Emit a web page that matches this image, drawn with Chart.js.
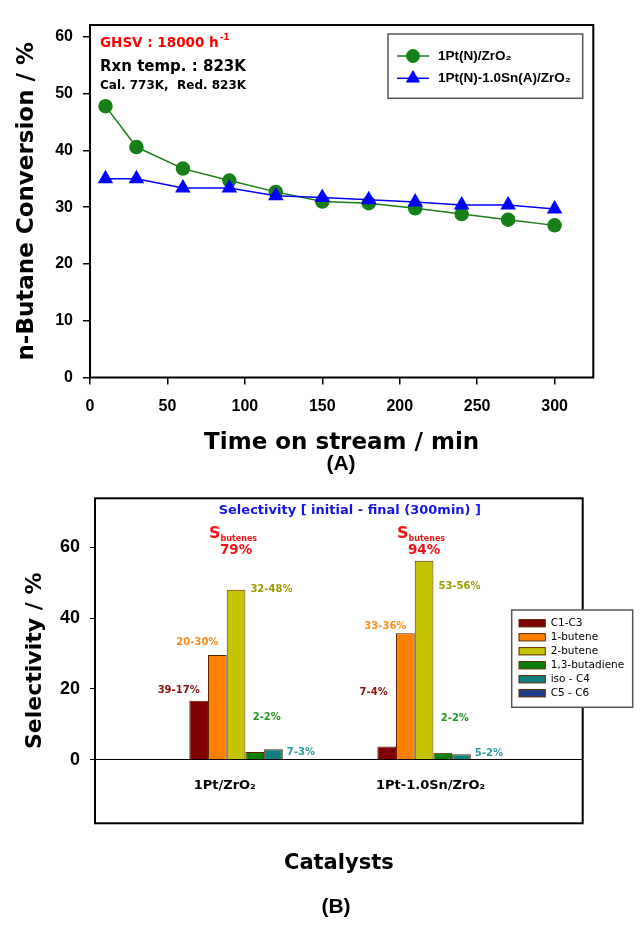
<!DOCTYPE html>
<html>
<head>
<meta charset="utf-8">
<script src="https://cdn.jsdelivr.net/npm/chart.js@4.4.1/dist/chart.umd.min.js"></script>
<style>
	html, body { margin: 0; padding: 0; background: #fff; }
	#wrap { position: relative; width: 643px; height: 925px; overflow: hidden; }
	canvas { position: absolute; left: 0; }
	#convChart { top: 0; }
	#selChart { top: 470px; }
	.panel { position: absolute; transform: translate(-50%, -50%); font: bold 21px 'Liberation Sans', Arial, sans-serif; color: #000; }
</style>
</head>
<body>
<div id="wrap">
	<canvas id="convChart" width="643" height="470" style="width:643px;height:470px"></canvas>
	<canvas id="selChart" width="643" height="455" style="width:643px;height:455px"></canvas>
	<div class="panel" style="left:341px;top:463px">(A)</div>
	<div class="panel" style="left:336px;top:906px">(B)</div>
</div>
<script>
// (A) n-butane conversion vs time on stream
const timeMin = [10, 30, 60, 90, 120, 150, 180, 210, 240, 270, 300];
const convPt = [47.8, 40.6, 36.8, 34.7, 32.7, 31.0, 30.7, 29.8, 28.8, 27.8, 26.8];
const convPtSn = [35.0, 35.0, 33.4, 33.4, 32.0, 31.7, 31.3, 30.9, 30.4, 30.4, 29.7];
const timeTicks = [0, 50, 100, 150, 200, 250, 300];
const convTicks = [0, 10, 20, 30, 40, 50, 60];
const seriesNames = ['1Pt(N)/ZrO₂', '1Pt(N)-1.0Sn(A)/ZrO₂'];
const conditionText = ['GHSV : 18000 h', 'Rxn temp. : 823K', 'Cal. 773K,  Red. 823K'];

// (B) selectivity, initial - final (300 min)
const catalysts = ['1Pt/ZrO₂', '1Pt-1.0Sn/ZrO₂'];
const products = ['C1-C3', '1-butene', '2-butene', '1,3-butadiene', 'iso - C4', 'C5 - C6'];
const selC1C3 = [16.7, 3.8];
const sel1Butene = [29.6, 35.7];
const sel2Butene = [48.0, 56.2];
const selButadiene = [2.2, 2.0];
const selIsoC4 = [3.0, 1.6];
const selC5C6 = [0, 0];
const selTicks = [0, 20, 40, 60];
const changeNotesPt = ['39-17%', '20-30%', '32-48%', '2-2%', '7-3%'];
const changeNotesPtSn = ['7-4%', '33-36%', '53-56%', '2-2%', '5-2%'];
const butenesSel = ['79%', '94%'];

// layout of the annotations (not data)
const catX = [1, 2];
const catLabelX = [0.89, 1.985];
const noteLevels = [[19.5, 33.1, 48.2, 12.1, 2.2], [19.1, 37.6, 48.8, 11.8, 1.9]];
const noteAnchor = [['center', 'right', 1], ['center', 'right', 1], ['right', 'left', 5], ['center', 'left', -2], ['right', 'left', 4]];
const noteColors = ['#8b1010', '#ff8c1a', '#9c9c00', '#1f9a1f', '#2a9c9c'];
const productColors = ['#800000', '#ff8000', '#c4c400', '#0a800a', '#118080', '#1f3c88'];

const DV = '"DejaVu Sans", Verdana, sans-serif';
const LS = '"Liberation Sans", Arial, "DejaVu Sans", sans-serif';

const framePlugin = {
	id: 'frame',
	beforeDatasetsDraw(chart) {
		const { ctx, chartArea: a } = chart;
		ctx.save();
		ctx.strokeStyle = '#000';
		ctx.lineWidth = 2;
		ctx.strokeRect(a.left, a.top, a.right - a.left, a.bottom - a.top);
		ctx.restore();
	},
};

const convNotes = {
	id: 'convNotes',
	afterDraw(chart) {
		const { ctx, chartArea: a } = chart;
		ctx.save();
		ctx.textAlign = 'left';
		ctx.textBaseline = 'middle';
		ctx.fillStyle = '#ff0000';
		ctx.font = 'bold 13.5px ' + DV;
		ctx.fillText(conditionText[0], a.left + 10, a.top + 18);
		const w = ctx.measureText(conditionText[0]).width;
		ctx.font = 'bold 9px ' + DV;
		ctx.fillText('-1', a.left + 11 + w, a.top + 13);
		ctx.fillStyle = '#000';
		ctx.font = 'bold 15px ' + DV;
		ctx.fillText(conditionText[1], a.left + 10, a.top + 41.7);
		ctx.font = 'bold 12px ' + DV;
		ctx.fillText(conditionText[2], a.left + 10, a.top + 61);

		// legend box
		const bw = 194.7, bh = 64.3;
		const bx = a.right - 10.6 - bw, by = a.top + 9;
		ctx.fillStyle = '#fff';
		ctx.fillRect(bx, by, bw, bh);
		ctx.strokeStyle = '#555';
		ctx.lineWidth = 1.5;
		ctx.strokeRect(bx, by, bw, bh);
		chart.data.datasets.forEach((ds, i) => {
			const y = by + 22 + i * 22.3;
			ctx.strokeStyle = ds.borderColor;
			ctx.lineWidth = ds.borderWidth;
			ctx.beginPath();
			ctx.moveTo(bx + 9, y);
			ctx.lineTo(bx + 41, y);
			ctx.stroke();
			ctx.fillStyle = ds.pointBackgroundColor;
			ctx.strokeStyle = ds.pointBorderColor;
			ctx.lineWidth = 1;
			Chart.helpers.drawPoint(ctx, { pointStyle: ds.pointStyle, radius: ds.pointRadius, rotation: 0, borderWidth: 1 }, bx + 25, y);
			ctx.fillStyle = '#000';
			ctx.font = 'bold 13.5px ' + LS;
			ctx.textBaseline = 'middle';
			ctx.fillText(ds.label, bx + 50, y);
		});
		ctx.restore();
	},
};

new Chart(document.getElementById('convChart'), {
	type: 'line',
	data: {
		datasets: [
			{
				label: seriesNames[0],
				data: timeMin.map((t, i) => ({ x: t, y: convPt[i] })),
				borderColor: '#1a7d1a',
				backgroundColor: '#1a7d1a',
				pointBackgroundColor: '#168016',
				pointBorderColor: '#168016',
				pointStyle: 'circle',
				pointRadius: 6.5,
				borderWidth: 1.5,
				tension: 0,
				order: 1,
			},
			{
				label: seriesNames[1],
				data: timeMin.map((t, i) => ({ x: t, y: convPtSn[i] })),
				borderColor: '#0000ff',
				backgroundColor: '#0000ff',
				pointBackgroundColor: '#0000ff',
				pointBorderColor: '#0000ff',
				pointStyle: 'triangle',
				pointRadius: 7.5,
				borderWidth: 1.5,
				tension: 0,
				order: 0,
			},
		],
	},
	options: {
		responsive: false,
		animation: false,
		events: [],
		layout: { padding: { left: 0, right: 49.7, top: 25, bottom: 0 } },
		plugins: { legend: { display: false }, tooltip: { enabled: false } },
		scales: {
			x: {
				type: 'linear',
				min: 0,
				max: 325,
				afterBuildTicks: (s) => { s.ticks = timeTicks.map((v) => ({ value: v })); },
				afterFit: (s) => { s.height = 92.5; },
				border: { display: false },
				grid: { drawOnChartArea: false, drawTicks: true, tickLength: 7, tickColor: '#000', lineWidth: 1.5 },
				ticks: { color: '#000', padding: 12, maxRotation: 0, font: { family: LS, size: 16, weight: 'bold' } },
				title: {
					display: true,
					text: 'Time on stream / min',
					color: '#000',
					font: { family: DV, size: 23, weight: 'bold' },
					padding: { top: 0, bottom: 12.9 },
				},
			},
			y: {
				min: 0,
				max: 62.1,
				afterBuildTicks: (s) => { s.ticks = convTicks.map((v) => ({ value: v })); },
				afterFit: (s) => { s.width = 90; },
				border: { display: false },
				grid: { drawOnChartArea: false, drawTicks: true, tickLength: 7, tickColor: '#000', lineWidth: 1.5 },
				ticks: { color: '#000', padding: 10, font: { family: LS, size: 16, weight: 'bold' } },
				title: {
					display: true,
					text: 'n-Butane Conversion / %',
					color: '#000',
					font: { family: DV, size: 23, weight: 'bold' },
					padding: { top: 13.2, bottom: 0 },
				},
			},
		},
	},
	plugins: [framePlugin, convNotes],
});

const selNotes = {
	id: 'selNotes',
	afterDraw(chart) {
		const { ctx, chartArea: a } = chart;
		const yScale = chart.scales.y;
		ctx.save();

		ctx.textAlign = 'center';
		ctx.textBaseline = 'middle';
		ctx.fillStyle = '#1414e6';
		ctx.font = 'bold 13px ' + DV;
		ctx.fillText('Selectivity [ initial - final (300min) ]', (a.left + a.right) / 2 + 11, a.top + 12.7);

		const notes = [changeNotesPt, changeNotesPtSn];
		catX.forEach((c, ci) => {
			for (let d = 0; d < 5; d++) {
				const bar = chart.getDatasetMeta(d).data[ci];
				const [from, align, dx] = noteAnchor[d];
				const x = (from === 'center' ? bar.x : bar.x + bar.width / 2) + dx;
				ctx.textAlign = align;
				ctx.fillStyle = noteColors[d];
				ctx.font = 'bold 10px ' + DV;
				ctx.fillText(notes[ci][d], x, yScale.getPixelForValue(noteLevels[ci][d]));
			}

			// S_butenes over the 2-butene bar
			const mid = chart.getDatasetMeta(2).data[ci].x;
			const base = yScale.getPixelForValue(62.5);
			ctx.fillStyle = '#f01414';
			ctx.font = 'bold 16px ' + DV;
			const sw = ctx.measureText('S').width;
			ctx.font = 'bold 8px ' + DV;
			const bw = ctx.measureText('butenes').width;
			const sx = mid - 3 - (sw + bw) / 2;
			ctx.textAlign = 'left';
			ctx.textBaseline = 'alphabetic';
			ctx.font = 'bold 16px ' + DV;
			ctx.fillText('S', sx, base);
			ctx.font = 'bold 8px ' + DV;
			ctx.fillText('butenes', sx + sw, base + 2.5);
			ctx.textAlign = 'center';
			ctx.textBaseline = 'middle';
			ctx.font = 'bold 13.5px ' + DV;
			ctx.fillText(butenesSel[ci], mid, yScale.getPixelForValue(59));
		});

		// legend box
		const bw = 121, bh = 97.3;
		const bx = a.right - 71, by = a.top + 111.7;
		ctx.fillStyle = '#fff';
		ctx.fillRect(bx, by, bw, bh);
		ctx.strokeStyle = '#555';
		ctx.lineWidth = 1.5;
		ctx.strokeRect(bx, by, bw, bh);
		chart.data.datasets.forEach((ds, i) => {
			const y = by + 13.3 + i * 14;
			ctx.fillStyle = ds.backgroundColor;
			ctx.fillRect(bx + 7.3, y - 3.7, 26.3, 7.3);
			ctx.strokeStyle = '#5a2800';
			ctx.lineWidth = 1;
			ctx.strokeRect(bx + 7.3, y - 3.7, 26.3, 7.3);
			ctx.fillStyle = '#000';
			ctx.font = '10.5px ' + DV;
			ctx.textAlign = 'left';
			ctx.textBaseline = 'middle';
			ctx.fillText(ds.label, bx + 39, y);
		});
		ctx.restore();
	},
};

const selSeries = [selC1C3, sel1Butene, sel2Butene, selButadiene, selIsoC4, selC5C6];

new Chart(document.getElementById('selChart'), {
	type: 'bar',
	data: {
		datasets: selSeries.map((vals, i) => ({
			label: products[i],
			data: vals.map((v, j) => ({ x: catX[j], y: v })),
			backgroundColor: productColors[i],
			borderColor: '#5a2800',
			borderWidth: i === 5 ? 0 : 1,
			categoryPercentage: 0.5968,
			barPercentage: 1,
		})),
	},
	options: {
		responsive: false,
		animation: false,
		events: [],
		layout: { padding: { left: 0, right: 60.3, top: 28.3, bottom: 0 } },
		plugins: { legend: { display: false }, tooltip: { enabled: false } },
		scales: {
			x: {
				type: 'linear',
				offset: false,
				min: 0.2,
				max: 2.794,
				afterBuildTicks: (s) => { s.ticks = catLabelX.map((v) => ({ value: v })); },
				afterFit: (s) => { s.height = 101.7; },
				border: { display: false },
				grid: { display: false },
				ticks: {
					color: '#000',
					mirror: true,
					padding: 29.5,
					maxRotation: 0,
					autoSkip: false,
					font: { family: DV, size: 13, weight: 'bold' },
					callback: (v, i) => catalysts[i],
				},
				title: {
					display: true,
					text: 'Catalysts',
					color: '#000',
					font: { family: DV, size: 21, weight: 'bold' },
					padding: { top: 0, bottom: 49.1 },
				},
			},
			y: {
				min: -17.9,
				max: 73.8,
				afterBuildTicks: (s) => { s.ticks = selTicks.map((v) => ({ value: v })); },
				afterFit: (s) => { s.width = 95; },
				border: { display: false },
				grid: {
					drawTicks: true,
					tickLength: 5,
					tickColor: '#000',
					lineWidth: 1,
					color: (c) => (c.tick && c.tick.value === 0 ? '#000' : 'rgba(0,0,0,0)'),
				},
				ticks: { color: '#000', padding: 10, font: { family: LS, size: 18, weight: 'bold' } },
				title: {
					display: true,
					text: 'Selectivity / %',
					color: '#000',
					font: { family: DV, size: 22, weight: 'bold' },
					padding: { top: 21.8, bottom: 0 },
				},
			},
		},
	},
	plugins: [framePlugin, selNotes],
});
</script>
</body>
</html>
